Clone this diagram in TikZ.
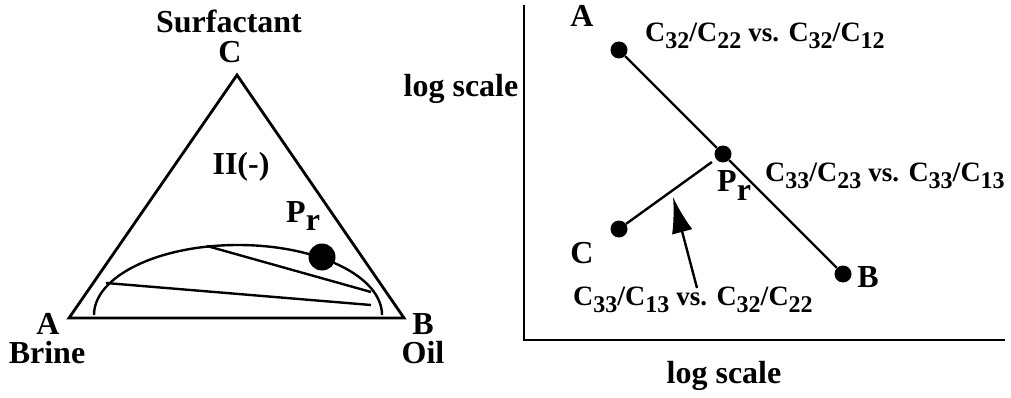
\documentclass[tikz,border=0pt]{standalone}
\usepackage{fontspec}
\setmainfont{Liberation Serif}
\usetikzlibrary{arrows.meta}
\newlength{\DotSize}
\newlength{\BigDotSize}
\setlength{\DotSize}{17pt}
\setlength{\BigDotSize}{27pt}
\newcommand{\labelfont}{\fontsize{32}{36}\selectfont\bfseries}
\newcommand{\ratiofont}{\fontsize{28}{34}\selectfont\bfseries}
\newcommand{\subfont}{\fontsize{24}{28}\selectfont}
\newcommand{\Cidx}[1]{C\raisebox{-7pt}{\subfont #1}}
\newcommand{\vsword}{{\fontsize{27}{30}\selectfont vs.}}
\tikzset{
  frame line/.style={draw, line width=2.8pt},
  thin line/.style={draw, line width=2.4pt},
  point/.style={circle, fill, minimum size=\DotSize, inner sep=0pt},
  big point/.style={circle, fill, minimum size=\BigDotSize, inner sep=0pt},
  tag/.style={font=\labelfont, inner sep=0pt, anchor=base},
  ratio/.style={font=\ratiofont, inner sep=0pt, anchor=base west},
}
\begin{document}
\begin{tikzpicture}[
  >=latex,
  x=1pt, y=-1pt
]
  \useasboundingbox (0,0) rectangle (1011,398);

  \begin{scope}
    \coordinate (brine) at (69,318);
    \coordinate (oil) at (404,318);
    \coordinate (surf) at (237,75);
    \draw[frame line, line join=miter] (brine) -- (oil) -- (surf) -- cycle;

    \coordinate (binL) at (94,315);
    \draw[thin line] (binL) arc[start angle=180, end angle=360, x radius=144, y radius=70];

    \coordinate (tieA1) at (207,246);
    \coordinate (tieA2) at (371,292);
    \coordinate (tieB1) at (106,283);
    \coordinate (tieB2) at (371,305);
    \draw[thin line] (tieA1) -- (tieA2);
    \draw[thin line] (tieB1) -- (tieB2);

    \node[big point] (plait) at (322,257) {};

    \node[tag] (surfname) at (229,33) {Surfactant};
    \node[tag] (surfC) at (230,63) {C};
    \node[tag] (brineA) at (48,334) {A};
    \node[tag] (brinename) at (47,363) {Brine};
    \node[tag] (oilB) at (423,334) {B};
    \node[tag] (oilname) at (423,363) {Oil};
    \node[tag] (phase) at (241,175) {II(-)};
    \node[tag, anchor=base west] (plaitname) at (286,222) {P\raisebox{-9pt}{r}};
  \end{scope}

  \begin{scope}
    \coordinate (origin) at (524,340);
    \coordinate (ytop) at (524,5);
    \coordinate (xend) at (1005,340);
    \draw[frame line] (ytop) -- (origin) -- (xend);

    \node[point] (pa) at (619,50) {};
    \node[point] (pr) at (723,154) {};
    \node[point] (pb) at (843,274) {};
    \node[point] (pc) at (619,229) {};
    \draw[thin line] (pa) -- (pr) -- (pb);
    \draw[thin line, shorten >=5pt] (pc) -- (pr);

    \coordinate (arrtail) at (697,288);
    \coordinate (arrtip) at (673,197);
    \draw[thin line, -{Latex[length=36pt, width=21pt]}] (arrtail) -- (arrtip);

    \node[tag] (ylabel) at (461,97) {log scale};
    \node[tag] (xlabel) at (724,383) {log scale};
    \node[tag] (la) at (582,27) {A};
    \node[tag] (lc) at (582,263) {C};
    \node[tag] (lb) at (868,287) {B};
    \node[tag, anchor=base west] (lpr) at (717,192) {P\raisebox{-9pt}{r}};

    \node[ratio] (ratioA) at (645,42) {\Cidx{32}/\Cidx{22} \vsword{} \Cidx{32}/\Cidx{12}};
    \node[ratio] (ratioB) at (765,182) {\Cidx{33}/\Cidx{23} \vsword{} \Cidx{33}/\Cidx{13}};
    \node[ratio] (ratioC) at (573,305) {\Cidx{33}/\Cidx{13} \vsword{} \Cidx{32}/\Cidx{22}};
  \end{scope}
\end{tikzpicture}
\end{document}
